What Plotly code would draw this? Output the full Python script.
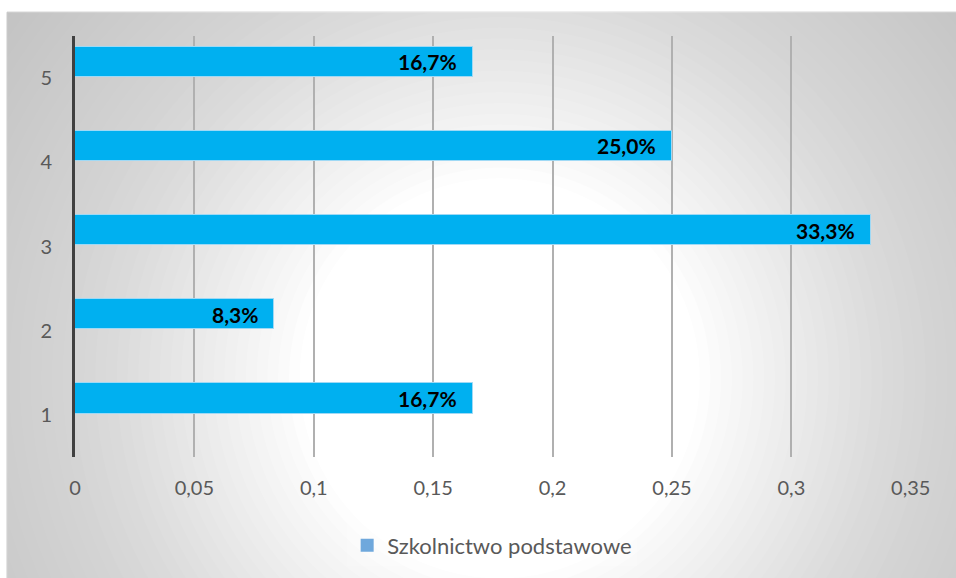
import plotly.graph_objects as go

# data
categories = [1, 2, 3, 4, 5]
values = [1 / 6, 1 / 12, 1 / 3, 1 / 4, 1 / 6]
series_name = "Szkolnictwo podstawowe"
x_ticks = [0, 0.05, 0.1, 0.15, 0.2, 0.25, 0.3, 0.35]

FONT = "Lato, 'Open Sans', sans-serif"
BAR_OFFSET = 0.015
BAR_WIDTH = 0.36

fig = go.Figure()

fig.add_trace(
    go.Bar(
        x=values,
        y=categories,
        orientation="h",
        offset=BAR_OFFSET,
        width=BAR_WIDTH,
        marker=dict(color="#00B0F0", line=dict(color="#9fd9f5", width=1)),
        showlegend=False,
        hoverinfo="x+y",
    )
)

# legend entry (Excel shows a lighter, bigger swatch than plotly's bar swatch)
fig.add_trace(
    go.Scatter(
        x=[None],
        y=[None],
        mode="markers",
        name=series_name,
        marker=dict(symbol="square", size=13, color="#6fa8dc"),
    )
)

# data labels, inside the end of each bar
for v, c in zip(values, categories):
    fig.add_annotation(
        x=v,
        y=c + BAR_OFFSET + BAR_WIDTH / 2,
        text="<b>" + f"{v * 100:.1f}".replace(".", ",") + "%</b>",
        xanchor="right",
        yanchor="middle",
        xshift=-14,
        showarrow=False,
        font=dict(family=FONT, size=21, color="black"),
    )

# chart area background: gray panel with a soft radial light in the middle
shapes = [
    dict(
        type="rect",
        xref="paper",
        yref="paper",
        x0=-0.0813,
        x1=1.06,
        y0=-0.30,
        y1=1.0567,
        fillcolor="#c2c2c2",
        line=dict(color="#c8c8c8", width=1),
        layer="below",
    )
]
n_layers = 40
r_outer, r_inner = 620, 200
remaining = 1.0
for i in range(1, n_layers + 1):
    r = r_outer - (r_outer - r_inner) * (i - 1) / (n_layers - 1)
    new_remaining = 1 - i / n_layers
    op = 1 - new_remaining / remaining if remaining > 0 else 1
    remaining = new_remaining
    shapes.append(
        dict(
            type="circle",
            xref="paper",
            yref="paper",
            xsizemode="pixel",
            ysizemode="pixel",
            xanchor=0.508,
            yanchor=0.187,
            x0=-r,
            x1=r,
            y0=-r,
            y1=r,
            fillcolor="white",
            opacity=op,
            line=dict(width=0),
            layer="below",
        )
    )

fig.update_layout(
    width=956,
    height=578,
    margin=dict(l=75, r=45, t=36, b=119),
    paper_bgcolor="white",
    plot_bgcolor="rgba(0,0,0,0)",
    separators=", ",
    shapes=shapes,
    font=dict(family=FONT, size=20, color="#595959"),
    bargap=0,
    xaxis=dict(
        range=[0, 0.3501],
        tickvals=x_ticks,
        showgrid=True,
        gridcolor="#b0b0b0",
        gridwidth=1.5,
        zeroline=False,
        showline=False,
        ticks="outside",
        ticklen=13,
        tickcolor="rgba(0,0,0,0)",
        tickfont=dict(family=FONT, size=20, color="#595959"),
    ),
    yaxis=dict(
        range=[0.5, 5.5],
        tickvals=categories,
        showgrid=False,
        zeroline=False,
        showline=True,
        linecolor="#404040",
        linewidth=3,
        ticks="outside",
        ticklen=16,
        tickcolor="rgba(0,0,0,0)",
        tickfont=dict(family=FONT, size=20, color="#595959"),
    ),
    legend=dict(
        orientation="h",
        x=0.499,
        xanchor="center",
        y=-0.21,
        yanchor="middle",
        bgcolor="rgba(255,255,255,0.2)",
        font=dict(family=FONT, size=22, color="#595959"),
    ),
)

fig.write_html(
    "out.html",
    config={"displayModeBar": False},
    post_script="document.body.style.margin='0px';",
)
